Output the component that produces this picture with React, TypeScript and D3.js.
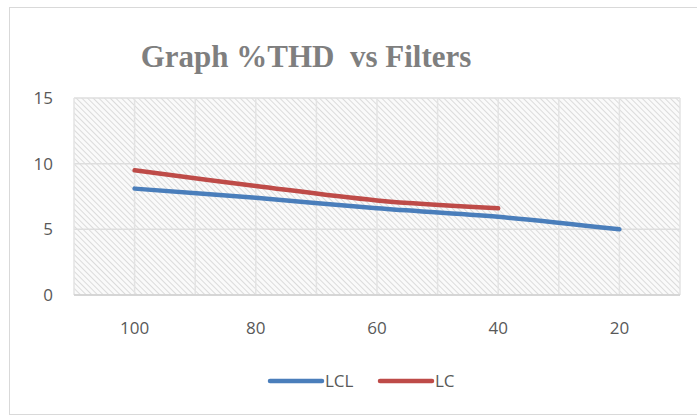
import React from 'react'
import * as d3 from 'd3'

const categories = ['100', '80', '60', '40', '20']
const lclValues = [8.1, 7.4, 6.6, 5.95, 5.0]
const lcValues = [9.5, 8.3, 7.2, 6.6]
const yTicks = [0, 5, 10, 15]

const W = 697
const H = 415
const margin = { left: 74, right: 17, top: 98, bottom: 120 }

const App: React.FC = () => {
  const innerW = W - margin.left - margin.right
  const innerH = H - margin.top - margin.bottom

  const x = d3.scaleBand<string>().domain(categories).range([margin.left, margin.left + innerW])
  const y = d3.scaleLinear().domain([0, 15]).range([margin.top + innerH, margin.top])
  const cx = (c: string) => (x(c) as number) + x.bandwidth() / 2

  const line = d3.line<number>()
    .x((_, i) => cx(categories[i]))
    .y(d => y(d))
    .curve(d3.curveCatmullRom.alpha(0.5))

  // gridlines at band edges and centers
  const vLines: number[] = []
  categories.forEach(c => {
    vLines.push(x(c) as number)
    vLines.push(cx(c))
  })
  vLines.push(margin.left + innerW)

  const labelFont = '"Open Sans", "Liberation Sans", sans-serif'

  return (
    <svg width={W} height={H} style={{ position: 'absolute', left: 0, top: 0, background: '#fff' }}>
      <defs>
        <pattern id="hatch" width="4" height="4" patternUnits="userSpaceOnUse" patternTransform="rotate(-45)">
          <rect width="4" height="4" fill="#fafafa" />
          <line x1="0" y1="0" x2="0" y2="4" stroke="#d4d4d4" strokeWidth="1.6" />
        </pattern>
      </defs>
      <rect x={9.5} y={7.5} width={W - 9} height={H - 8} fill="#fff" stroke="#d9d9d9" />

      <text x={306} y={67} textAnchor="middle" fontFamily='"Liberation Serif", "Times New Roman", serif'
        fontWeight="bold" fontSize={31} fill="#7f7f7f" style={{ whiteSpace: 'pre' }}>Graph %THD  vs Filters</text>

      <rect x={margin.left} y={margin.top} width={innerW} height={innerH} fill="url(#hatch)" />

      {yTicks.map(t => (
        <line key={'h' + t} x1={margin.left} x2={margin.left + innerW} y1={y(t)} y2={y(t)}
          stroke="#dedede" strokeWidth={1.5} />
      ))}
      {vLines.map((v, i) => (
        <line key={'v' + i} x1={v} x2={v} y1={margin.top} y2={margin.top + innerH}
          stroke="#e3e3e3" strokeWidth={1.5} />
      ))}
      <line x1={margin.left} x2={margin.left + innerW} y1={y(0)} y2={y(0)} stroke="#d0d0d0" strokeWidth={1.5} />

      {yTicks.map(t => (
        <text key={'yl' + t} x={53} y={y(t)} dy="0.35em" textAnchor="end" fontFamily={labelFont}
          fontSize={17} fill="#595959">{t}</text>
      ))}
      {categories.map(c => (
        <text key={'xl' + c} x={cx(c)} y={334} textAnchor="middle" fontFamily={labelFont}
          fontSize={17} fill="#595959">{c}</text>
      ))}

      <path d={line(lclValues) || ''} fill="none" stroke="#4a7ebb" strokeWidth={4.5} strokeLinecap="round" />
      <path d={line(lcValues) || ''} fill="none" stroke="#be4b48" strokeWidth={4.5} strokeLinecap="round" />

      <g fontFamily={labelFont} fontSize={17} fill="#595959">
        <line x1={270} x2={322} y1={381} y2={381} stroke="#4a7ebb" strokeWidth={4.5} strokeLinecap="round" />
        <text x={325} y={381} dy="0.35em">LCL</text>
        <line x1={380} x2={432} y1={381} y2={381} stroke="#be4b48" strokeWidth={4.5} strokeLinecap="round" />
        <text x={435} y={381} dy="0.35em">LC</text>
      </g>
    </svg>
  )
}

export default App
